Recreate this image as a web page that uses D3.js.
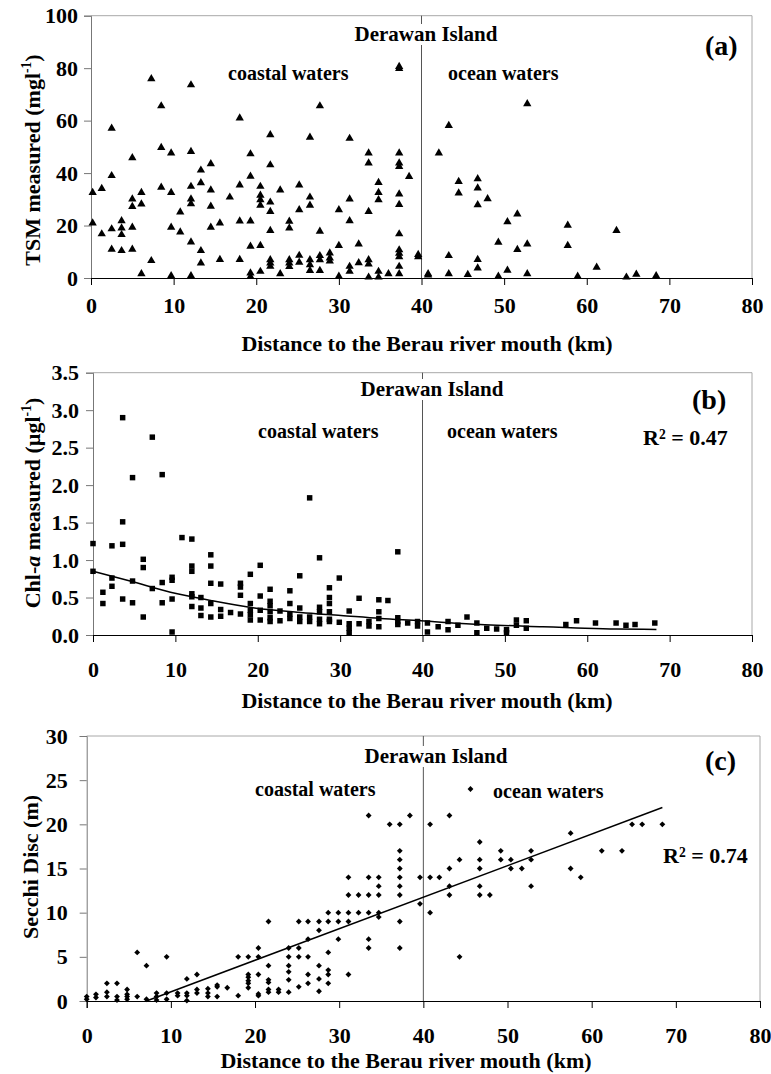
<!DOCTYPE html>
<html>
<head>
<meta charset="utf-8">
<script src="https://cdn.jsdelivr.net/npm/d3@7"></script>
<style>
  body { margin: 0; background: #fff; }
  text { font-family: "Liberation Serif", "Times New Roman", serif; font-weight: bold; fill: #000; }
</style>
</head>
<body>
<svg id="fig" width="771" height="1074"></svg>
<script>
// ---- data (km from river mouth, measured values at that distance) ----
const xTicks = [0, 10, 20, 30, 40, 50, 60, 70, 80]
const yTicksTSM = [0, 20, 40, 60, 80, 100]
const yTicksChl = [0, 0.5, 1, 1.5, 2, 2.5, 3, 3.5]
const yTicksSecchi = [0, 5, 10, 15, 20, 25, 30]
const islandKm = 40

const tsmData = [
  [0.2, [32.6, 20.9]], [1.3, [34.1, 16.8]], [2.5, [57.1, 39.0, 18.7, 10.9]],
  [3.7, [21.8, 19.0, 16.5, 10.4]], [5.0, [45.8, 30.1, 27.2, 19.3, 10.9]],
  [6.1, [32.6, 28.2, 1.6]], [7.3, [75.9, 6.6]], [8.5, [65.6, 49.7, 34.6]],
  [9.7, [47.6, 32.6, 19.3, 0.8]], [10.8, [25.1, 17.5]],
  [12.1, [73.6, 48.2, 34.9, 30.1, 28.3, 13.7, 0.8]], [13.3, [41.1, 36.3, 10.4, 5.7]],
  [14.5, [43.5, 33.5, 27.3, 19.3]], [15.6, [20.9, 7.0]], [16.8, [30.8]],
  [18.0, [61.0, 35.4, 21.7, 7.0]], [19.3, [47.3, 38.8, 21.7, 12.1, 1.9, 0.5]],
  [20.5, [34.9, 31.5, 29.8, 27.7, 12.4, 2.5]],
  [21.7, [54.6, 43.1, 28.9, 25.3, 18.1, 6.9, 5.7, 4.4]], [22.9, [33.5, 1.6]],
  [24.0, [21.6, 19.0, 6.9, 5.7, 4.3]], [25.2, [35.4, 26.0, 8.6, 6.0]],
  [26.5, [53.6, 30.8, 27.7, 6.9, 5.0, 2.8]], [27.7, [65.6, 17.8, 8.5, 6.9, 2.8]],
  [28.9, [9.5, 7.6, 6.4]], [30.0, [26.0, 12.4, 0.6]], [31.3, [53.2, 30.1, 21.8, 4.4, 2.5]],
  [32.4, [12.9, 5.8]], [33.6, [47.6, 43.8, 25.3, 6.9, 5.3, 0.3]],
  [34.8, [36.4, 32.6, 29.8, 2.5, 0.3]], [36.0, [1.6]],
  [37.3, [80.6, 79.8, 47.6, 43.8, 42.5, 32.0, 28.0, 16.8, 10.7, 9.4, 8.1, 4.4, 1.6]],
  [38.5, [38.7]], [39.6, [8.9, 8.1]], [40.8, [1.6, 1.1]], [42.1, [47.6]],
  [43.3, [58.1, 8.5, 1.6]], [44.5, [36.8, 32.4]], [45.6, [1.3]],
  [46.8, [37.8, 34.3, 27.9, 7.0, 3.8]], [48.0, [30.2]], [49.3, [13.6, 0.6]],
  [50.4, [21.4, 2.9]], [51.6, [24.4, 10.8]], [52.8, [66.4, 12.9, 1.6]],
  [57.7, [20.1, 12.4]], [58.9, [0.6]], [61.2, [4.1]], [63.6, [18.1]],
  [64.8, [0.3]], [66.0, [1.4]], [68.4, [0.8]]
]

const chlData = [
  [0.0, [1.22, 0.85]], [1.2, [0.57, 0.42]], [2.3, [1.19, 0.76, 0.65]],
  [3.6, [2.90, 1.51, 1.21, 0.48]], [4.8, [2.10, 0.72, 0.43]], [6.1, [1.01, 0.90, 0.24]],
  [7.2, [2.64, 0.62]], [8.4, [2.14, 0.70, 0.43]], [9.6, [0.77, 0.73, 0.48, 0.04]],
  [10.8, [1.30]], [12.0, [1.28, 0.92, 0.85, 0.55, 0.51, 0.38]], [13.1, [0.50, 0.36, 0.26]],
  [14.3, [1.07, 0.92, 0.69, 0.42, 0.24]], [15.5, [0.68, 0.34, 0.25]], [16.7, [0.30]],
  [17.9, [0.69, 0.64, 0.53, 0.28]], [19.1, [0.81, 0.42, 0.33, 0.27, 0.20]],
  [20.3, [0.93, 0.52, 0.33, 0.20]], [21.5, [0.61, 0.45, 0.39, 0.31, 0.23, 0.18]],
  [22.7, [0.32, 0.19]], [23.9, [0.59, 0.42, 0.28, 0.22]], [25.1, [0.79, 0.36, 0.24, 0.18]],
  [26.3, [1.83, 0.24, 0.18]], [27.5, [1.03, 0.37, 0.31, 0.21, 0.15]],
  [28.7, [0.63, 0.50, 0.42, 0.31, 0.21, 0.18]], [29.9, [0.76, 0.17]],
  [31.1, [0.32, 0.15, 0.09, 0.03]], [32.3, [0.49, 0.15]], [33.5, [0.18, 0.12]],
  [34.7, [0.47, 0.31, 0.22, 0.11]], [35.8, [0.46]], [37.0, [1.11, 0.23, 0.18, 0.14]],
  [38.2, [0.16]], [39.4, [0.18, 0.12]], [40.6, [0.16, 0.04]], [41.9, [0.11]],
  [43.1, [0.18, 0.07]], [44.3, [0.13]], [45.4, [0.24]], [46.6, [0.16, 0.03]],
  [47.8, [0.09]], [49.0, [0.08]], [50.2, [0.07, 0.03]], [51.4, [0.20, 0.13]],
  [52.6, [0.19, 0.09]], [57.4, [0.14]], [58.7, [0.19]], [61.0, [0.16]],
  [63.5, [0.16]], [64.7, [0.13]], [65.8, [0.14]], [68.2, [0.16]]
]
// trend curve
const chlTrend = [
  [0, 0.85], [4.5, 0.72], [9.4, 0.57], [14.3, 0.46], [19.6, 0.36], [25.2, 0.30],
  [30.1, 0.26], [34.9, 0.22], [39.8, 0.19], [45.3, 0.15], [54.6, 0.11],
  [58.7, 0.095], [63.5, 0.08], [68.4, 0.075]
]

const secchiData = [
  [0.0, [0.5, 0.2]], [1.1, [0.75, 0.4]], [2.4, [2.0, 1.0, 0.5]], [3.6, [2.0, 0.5, 0.1]],
  [4.8, [1.3, 0.75, 0.5, 0.2]], [6.0, [5.5, 0.5]], [7.1, [4.0, 0.2]], [8.3, [0.9, 0.5, 0.1]],
  [9.5, [5.0, 0.9, 0.2]], [10.8, [0.9, 0.6]], [11.9, [2.5, 0.9, 0.6, 0.05]],
  [13.1, [3.0, 1.3, 0.9]], [14.4, [1.4, 0.9, 0.5]], [15.5, [1.8, 1.6, 0.5]], [16.7, [1.5]],
  [18.0, [5.0, 0.6]], [19.2, [5.0, 3.0, 2.7, 2.3, 2.0, 1.5]], [20.4, [6.0, 5.0, 3.0, 0.8, 0.6]],
  [21.6, [9.0, 4.0, 2.4, 2.1, 1.3, 1.0]], [22.8, [1.3, 1.0]],
  [24.0, [6.0, 5.0, 4.0, 3.3, 2.4, 1.0]], [25.2, [9.0, 6.0, 5.0, 1.6]],
  [26.3, [9.0, 7.0, 5.0, 3.0, 2.0]], [27.6, [9.0, 8.0, 4.0, 2.5, 1.1]],
  [28.7, [10.0, 9.0, 5.5, 3.5, 3.0, 2.0]], [29.9, [10, 9, 7]], [31.1, [14, 12, 10, 9, 3]],
  [32.3, [12, 10]], [33.5, [21, 14, 12, 10, 7, 6]], [34.7, [14, 13, 12, 10, 9.5]],
  [36.0, [20]], [37.2, [20, 17, 16, 15, 14, 13, 12, 9, 6]], [38.4, [21]],
  [39.6, [14, 11]], [40.8, [20, 14, 10]], [41.9, [14]], [43.1, [21, 15, 13, 12]],
  [44.3, [16, 5]], [45.6, [24]], [46.7, [18, 16, 15, 13, 12]], [47.9, [12]],
  [49.2, [17, 16]], [50.4, [16, 15]], [51.7, [15]], [52.8, [17, 16, 13]],
  [57.5, [19, 15]], [58.7, [14]], [61.2, [17]], [63.6, [17]], [64.8, [20]],
  [66.0, [20]], [68.4, [20]]
]
const secchiTrend = [[7.1, 0], [68.4, 21.9]]

const xTitle = "Distance to the Berau river mouth (km)"

// ---- drawing ----
const svg = d3.select("#fig")

function flatten(rows) {
  return rows.flatMap(([km, vals]) => vals.map(v => [km, v]))
}

// write text made of segments, some italic / superscript
function richText(sel, parts) {
  parts.forEach(p => {
    const t = sel.append("tspan").text(p.t)
    if (p.it) t.style("font-style", "italic")
    if (p.sup) t.attr("dy", "-0.45em").style("font-size", "0.62em")
    if (p.after) t.attr("dy", "0.28em")
  })
}

function panel(cfg) {
  const g = svg.append("g")
  const x = d3.scaleLinear().domain([0, 80]).range([cfg.x0, cfg.x1])
  const y = d3.scaleLinear().domain([0, cfg.yMax]).range([cfg.yBot, cfg.yTop])

  // top and right frame
  g.append("path")
    .attr("d", `M${cfg.x0},${cfg.yTop}H${cfg.x1}V${cfg.yBot}`)
    .attr("fill", "none").attr("stroke", "#a8a8a8")

  // divider at Derawan Island
  g.append("line")
    .attr("x1", x(islandKm)).attr("x2", x(islandKm))
    .attr("y1", cfg.yTop).attr("y2", cfg.yBot)
    .attr("stroke", "#555")

  const yAxis = g.append("g")
    .attr("transform", `translate(${cfg.x0},0)`)
    .call(d3.axisLeft(y).tickValues(cfg.yTicks).tickFormat(cfg.fmt)
      .tickSizeOuter(0).tickSize(7).tickPadding(cfg.yPad))
  yAxis.select(".domain").attr("stroke", "#777")
  yAxis.selectAll(".tick line").attr("stroke", "#777")

  const xAxis = g.append("g")
    .attr("transform", `translate(0,${cfg.yBot})`)
    .call(d3.axisBottom(x).tickValues(xTicks).tickSizeOuter(0).tickSize(7).tickPadding(cfg.xPad))
  xAxis.select(".domain").attr("stroke", "#000")
  xAxis.selectAll(".tick line").attr("stroke", "#000")

  g.selectAll(".tick text")
    .attr("fill", "#000")
    .style("font-family", '"Liberation Serif", serif')
    .style("font-weight", "bold")
    .style("font-size", "22px")

  // points
  const sym = d3.symbol().type(cfg.symbol).size(cfg.size)
  g.append("g").selectAll("path")
    .data(flatten(cfg.data))
    .join("path")
    .attr("d", sym)
    .attr("transform", d => `translate(${x(d[0])},${y(d[1])})${cfg.rotate ? " rotate(45)" : ""}`)
    .attr("fill", "#000")

  if (cfg.trend) {
    g.append("path")
      .attr("d", d3.line().x(d => x(d[0])).y(d => y(d[1])).curve(d3.curveMonotoneX)(cfg.trend))
      .attr("fill", "none").attr("stroke", "#000").attr("stroke-width", 1.5)
  }

  // labels
  const isl = g.append("text").attr("x", cfg.isl[0]).attr("y", cfg.isl[1])
    .attr("text-anchor", "middle").style("font-size", "21px").text("Derawan Island")
  const bb = isl.node().getBBox()
  g.insert("rect", () => isl.node())
    .attr("x", bb.x - 2).attr("y", bb.y + 2).attr("width", bb.width + 4).attr("height", bb.height - 3)
    .attr("fill", "#fff")

  g.append("text").attr("x", cfg.coastal[0]).attr("y", cfg.coastal[1])
    .style("font-size", "20px").text("coastal waters")
  g.append("text").attr("x", cfg.ocean[0]).attr("y", cfg.ocean[1])
    .style("font-size", "20px").text("ocean waters")
  g.append("text").attr("x", cfg.letter[0]).attr("y", cfg.letter[1])
    .style("font-size", "28px").text(cfg.letterText)

  if (cfg.r2) {
    const r = g.append("text").attr("x", cfg.r2[0]).attr("y", cfg.r2[1]).style("font-size", "22px")
    richText(r, [{t: "R"}, {t: "2", sup: true}, {t: " = " + cfg.r2Text, after: true}])
  }

  g.append("text").attr("x", cfg.xt[0]).attr("y", cfg.xt[1])
    .attr("text-anchor", "middle").style("font-size", "22px").text(xTitle)

  const yt = g.append("text")
    .attr("transform", `translate(${cfg.yt[0]},${cfg.yt[1]}) rotate(-90)`)
    .attr("text-anchor", "middle").attr("dominant-baseline", "central")
    .style("font-size", "22px")
  richText(yt, cfg.yLabel)
}

panel({
  x0: 91, x1: 752, yTop: 15.7, yBot: 278, yMax: 100,
  yTicks: yTicksTSM, fmt: d3.format("d"), yPad: 6, xPad: 12,
  data: tsmData, symbol: d3.symbolTriangle, size: 30,
  isl: [426, 41], coastal: [228, 80], ocean: [448, 80], letter: [705, 55], letterText: "(a)",
  xt: [427, 351], yt: [32, 160],
  yLabel: [{t: "TSM measured (mgl"}, {t: "-1", sup: true}, {t: ")", after: true}]
})

panel({
  x0: 93, x1: 752, yTop: 372.7, yBot: 635, yMax: 3.5,
  yTicks: yTicksChl, fmt: d3.format(".1f"), yPad: 7, xPad: 19,
  data: chlData, symbol: d3.symbolSquare, size: 30, trend: chlTrend,
  isl: [432, 396], coastal: [258, 438], ocean: [447, 438], letter: [692, 409], letterText: "(b)",
  r2: [643, 445], r2Text: "0.47",
  xt: [427, 708], yt: [32, 503],
  yLabel: [{t: "Chl-"}, {t: "a", it: true}, {t: " measured (\u00b5gl"}, {t: "-1", sup: true}, {t: ")", after: true}]
})

panel({
  x0: 86.7, x1: 760, yTop: 736, yBot: 1001, yMax: 30,
  yTicks: yTicksSecchi, fmt: d3.format("d"), yPad: 12, xPad: 19,
  data: secchiData, symbol: d3.symbolSquare, size: 17, rotate: true, trend: secchiTrend,
  isl: [436, 763], coastal: [255, 796], ocean: [493, 798], letter: [705, 770], letterText: "(c)",
  r2: [663, 863], r2Text: "0.74",
  xt: [406, 1068], yt: [30, 867],
  yLabel: [{t: "Secchi Disc (m)"}]
})
</script>
</body>
</html>
